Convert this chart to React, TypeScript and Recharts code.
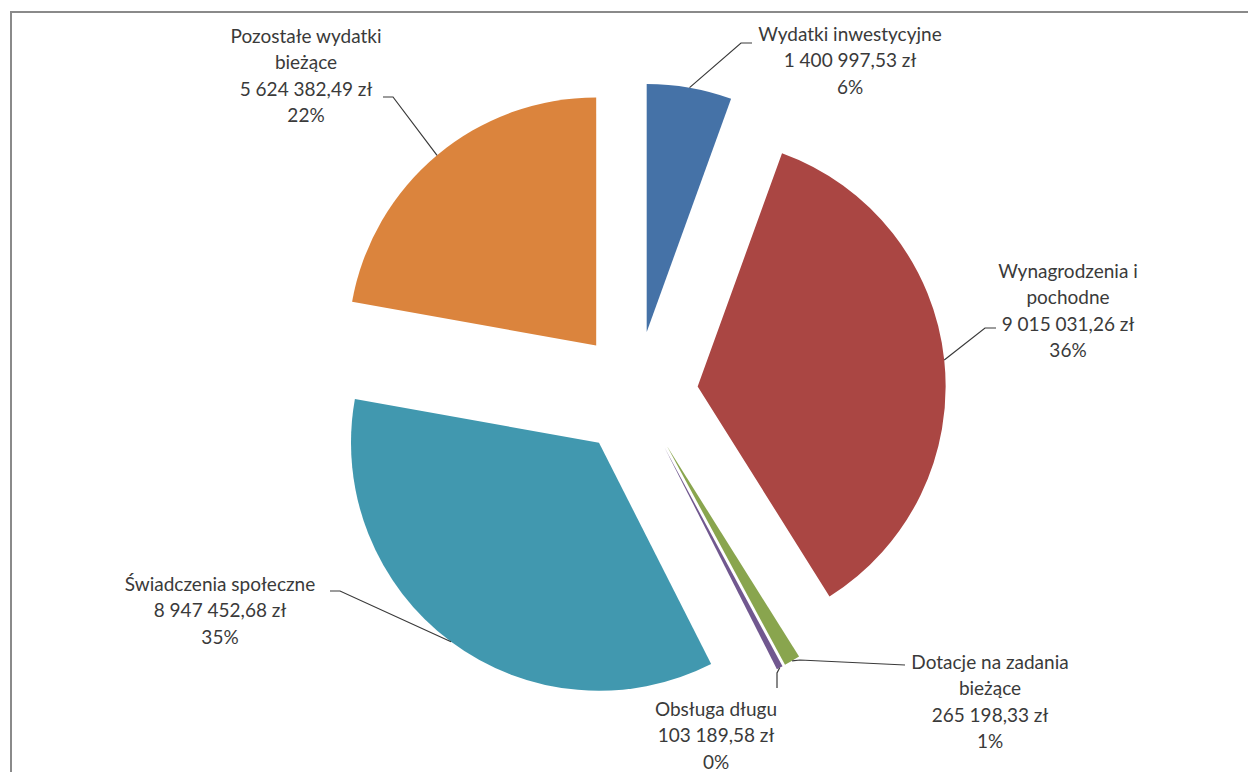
import React from "react";
import { PieChart, Pie, Cell, Sector } from "recharts";

// Wydatki budżetu – struktura (wartości w zł)
const categories = [
  "Wydatki inwestycyjne",
  "Wynagrodzenia i\npochodne",
  "Dotacje na zadania\nbieżące",
  "Obsługa długu",
  "Świadczenia społeczne",
  "Pozostałe wydatki\nbieżące",
];
const amounts = [1400997.53, 9015031.26, 265198.33, 103189.58, 8947452.68, 5624382.49];
const colors = ["#4572A7", "#AA4643", "#89A54E", "#71588F", "#4198AF", "#DB843D"];

const W = 1248;
const H = 772;
const CX = 636;
const CY = 393;
const R = 248;
const EXPLODE = 62;
const RADIAN = Math.PI / 180;
const FONT = "Lato, 'Open Sans', sans-serif";
const FONT_SIZE = 19;
const LINE_H = 26.5;
const TEXT_COLOR = "#3a3a3a";

// label text block (centre x, first line centre y) and leader line bends
const labelLayout = [
  { x: 850, y: 33, elbow: [741, 43], end: [752, 43] },
  { x: 1068, y: 270, elbow: [985, 328], end: [996, 328] },
  { x: 990, y: 661, elbow: [800, 660], end: [905, 665] },
  { x: 716, y: 708, elbow: [777, 673], end: [777, 688] },
  { x: 220, y: 583, elbow: [340, 591], end: [330, 591] },
  { x: 306, y: 35, elbow: [393, 97], end: [383, 97] },
];

const data = categories.map((name, i) => ({ name, value: amounts[i] }));

function formatZl(v: number) {
  const [int, dec] = v.toFixed(2).split(".");
  const grouped = int.replace(/\B(?=(\d{3})+(?!\d))/g, " ");
  return `${grouped},${dec} zł`;
}

function explodeOffset(midAngle: number) {
  return {
    dx: EXPLODE * Math.cos(-midAngle * RADIAN),
    dy: EXPLODE * Math.sin(-midAngle * RADIAN),
  };
}

function ExplodedSector(props: any) {
  const { dx, dy } = explodeOffset(props.midAngle);
  return <Sector {...props} cx={props.cx + dx} cy={props.cy + dy} stroke="none" />;
}

function renderLabel(props: any) {
  const { cx, cy, midAngle, outerRadius, index, percent } = props;
  const layout = labelLayout[index];
  if (!layout) return null;
  const { dx, dy } = explodeOffset(midAngle);
  const sx = cx + dx + outerRadius * Math.cos(-midAngle * RADIAN);
  const sy = cy + dy + outerRadius * Math.sin(-midAngle * RADIAN);
  const lines = [
    ...categories[index].split("\n"),
    formatZl(amounts[index]),
    `${Math.round(percent * 100)}%`,
  ];
  return (
    <g key={`lbl-${index}`}>
      <polyline
        points={`${sx},${sy} ${layout.elbow[0]},${layout.elbow[1]} ${layout.end[0]},${layout.end[1]}`}
        fill="none"
        stroke="#3a3a3a"
        strokeWidth={1.2}
      />
      <text
        x={layout.x}
        y={layout.y}
        textAnchor="middle"
        fontFamily={FONT}
        fontSize={FONT_SIZE}
        fill={TEXT_COLOR}
      >
        {lines.map((t, i) => (
          <tspan key={i} x={layout.x} y={layout.y + i * LINE_H} dominantBaseline="central">
            {t}
          </tspan>
        ))}
      </text>
    </g>
  );
}

export default function App() {
  return (
    <div
      style={{
        position: "absolute",
        left: 0,
        top: 0,
        width: W,
        height: H,
        overflow: "hidden",
        background: "#ffffff",
      }}
    >
      <div
        style={{
          position: "absolute",
          left: 10,
          top: 11,
          width: W + 40,
          height: H + 40,
          borderTop: "2px solid #8a8a8a",
          borderLeft: "2px solid #8a8a8a",
        }}
      />
      <div style={{ position: "absolute", left: 0, top: 0 }}>
        <PieChart width={W} height={H} margin={{ top: 0, right: 0, bottom: 0, left: 0 }}>
          <Pie
            data={data}
            dataKey="value"
            nameKey="name"
            cx={CX}
            cy={CY}
            outerRadius={R}
            startAngle={90}
            endAngle={-270}
            stroke="none"
            shape={ExplodedSector}
            activeShape={ExplodedSector}
            inactiveShape={ExplodedSector}
            label={renderLabel}
            labelLine={false}
            isAnimationActive={false}
          >
            {data.map((d, i) => (
              <Cell key={d.name} fill={colors[i]} />
            ))}
          </Pie>
        </PieChart>
      </div>
    </div>
  );
}
